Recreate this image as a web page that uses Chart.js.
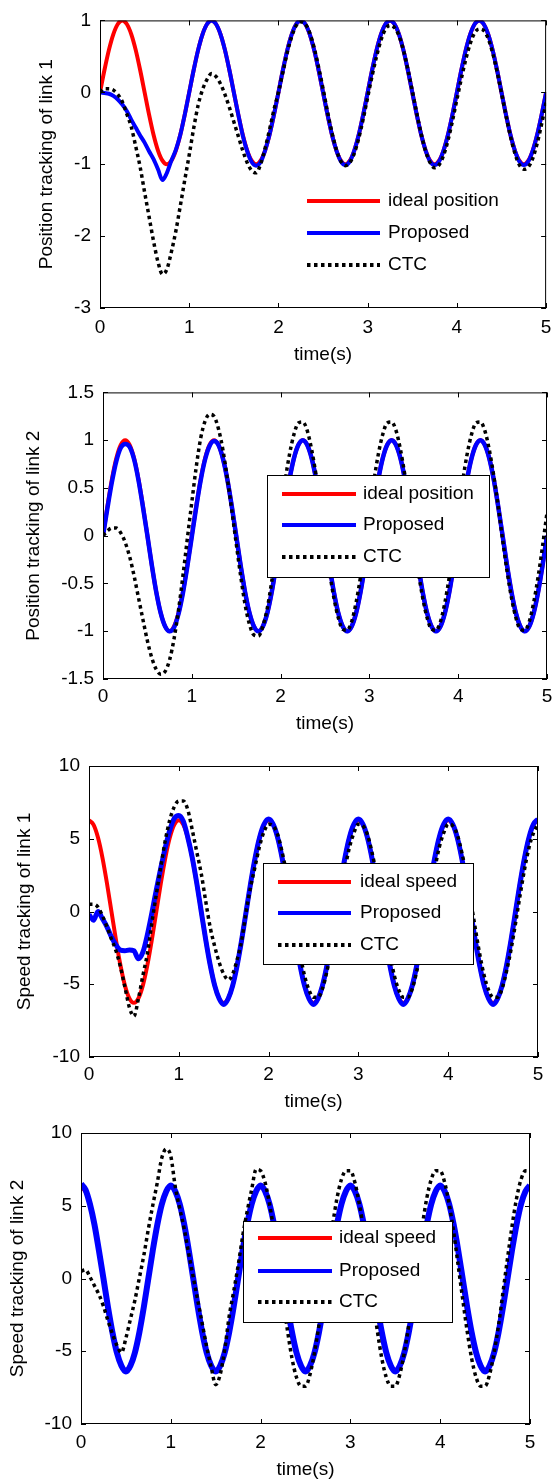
<!DOCTYPE html>
<html>
<head>
<meta charset="utf-8">
<script src="https://cdn.jsdelivr.net/npm/chart.js@4"></script>
<style>
  body { margin: 0; background: #fff; width: 560px; height: 1482px; position: relative; overflow: hidden; }
  canvas { position: absolute; left: 0; }
</style>
</head>
<body>
<canvas id="c1"></canvas>
<canvas id="c2"></canvas>
<canvas id="c3"></canvas>
<canvas id="c4"></canvas>
<script>
// sample times (s)
const time = [
  0, 0.05, 0.1, 0.15, 0.2, 0.25, 0.3, 0.35, 0.4, 0.45, 0.5, 0.55, 0.6, 0.65, 0.7, 0.75, 0.8, 0.85, 0.9, 0.95,
  1, 1.05, 1.1, 1.15, 1.2, 1.25, 1.3, 1.35, 1.4, 1.45, 1.5, 1.55, 1.6, 1.65, 1.7, 1.75, 1.8, 1.85, 1.9, 1.95,
  2, 2.05, 2.1, 2.15, 2.2, 2.25, 2.3, 2.35, 2.4, 2.45, 2.5, 2.55, 2.6, 2.65, 2.7, 2.75, 2.8, 2.85, 2.9, 2.95,
  3, 3.05, 3.1, 3.15, 3.2, 3.25, 3.3, 3.35, 3.4, 3.45, 3.5, 3.55, 3.6, 3.65, 3.7, 3.75, 3.8, 3.85, 3.9, 3.95,
  4, 4.05, 4.1, 4.15, 4.2, 4.25, 4.3, 4.35, 4.4, 4.45, 4.5, 4.55, 4.6, 4.65, 4.7, 4.75, 4.8, 4.85, 4.9, 4.95,
  5
];
const xTicks = [0, 1, 2, 3, 4, 5];

// ideal trajectories (same for both links)
const idealPosition = [
  0, 0.31, 0.59, 0.81, 0.95, 1, 0.95, 0.81, 0.59, 0.31, 0, -0.31, -0.59, -0.81, -0.95, -1, -0.95, -0.81, -0.59, -0.31,
  0, 0.31, 0.59, 0.81, 0.95, 1, 0.95, 0.81, 0.59, 0.31, 0, -0.31, -0.59, -0.81, -0.95, -1, -0.95, -0.81, -0.59, -0.31,
  0, 0.31, 0.59, 0.81, 0.95, 1, 0.95, 0.81, 0.59, 0.31, 0, -0.31, -0.59, -0.81, -0.95, -1, -0.95, -0.81, -0.59, -0.31,
  0, 0.31, 0.59, 0.81, 0.95, 1, 0.95, 0.81, 0.59, 0.31, 0, -0.31, -0.59, -0.81, -0.95, -1, -0.95, -0.81, -0.59, -0.31,
  0, 0.31, 0.59, 0.81, 0.95, 1, 0.95, 0.81, 0.59, 0.31, 0, -0.31, -0.59, -0.81, -0.95, -1, -0.95, -0.81, -0.59, -0.31,
  0
];
const idealSpeed = [
  6.28, 5.97, 5.08, 3.69, 1.94, 0, -1.94, -3.69, -5.08, -5.97, -6.28, -5.97, -5.08, -3.69, -1.94, 0, 1.94, 3.69, 5.08, 5.97,
  6.28, 5.97, 5.08, 3.69, 1.94, 0, -1.94, -3.69, -5.08, -5.97, -6.28, -5.97, -5.08, -3.69, -1.94, 0, 1.94, 3.69, 5.08, 5.97,
  6.28, 5.97, 5.08, 3.69, 1.94, 0, -1.94, -3.69, -5.08, -5.97, -6.28, -5.97, -5.08, -3.69, -1.94, 0, 1.94, 3.69, 5.08, 5.97,
  6.28, 5.97, 5.08, 3.69, 1.94, 0, -1.94, -3.69, -5.08, -5.97, -6.28, -5.97, -5.08, -3.69, -1.94, 0, 1.94, 3.69, 5.08, 5.97,
  6.28, 5.97, 5.08, 3.69, 1.94, 0, -1.94, -3.69, -5.08, -5.97, -6.28, -5.97, -5.08, -3.69, -1.94, 0, 1.94, 3.69, 5.08, 5.97,
  6.28
];

// link 1 position
const proposedPos1 = [
  0, -0.01, -0.02, -0.05, -0.1, -0.17, -0.26, -0.38, -0.49, -0.6, -0.7, -0.82, -0.93, -1.07, -1.22, -1.12, -0.95, -0.8, -0.59, -0.31,
  0, 0.31, 0.59, 0.81, 0.95, 1, 0.95, 0.81, 0.59, 0.31, 0, -0.31, -0.6, -0.82, -0.97, -1.02, -0.97, -0.81, -0.59, -0.31,
  0, 0.31, 0.59, 0.81, 0.95, 1, 0.95, 0.81, 0.59, 0.31, 0, -0.31, -0.59, -0.81, -0.96, -1.01, -0.96, -0.81, -0.59, -0.31,
  0, 0.31, 0.59, 0.81, 0.95, 1, 0.95, 0.81, 0.59, 0.31, 0, -0.31, -0.59, -0.81, -0.96, -1.01, -0.96, -0.81, -0.59, -0.31,
  0, 0.31, 0.59, 0.81, 0.95, 1, 0.95, 0.81, 0.59, 0.31, 0, -0.31, -0.59, -0.81, -0.96, -1.01, -0.96, -0.81, -0.59, -0.31,
  0
];
const ctcPos1 = [
  0, 0.05, 0.05, 0.03, -0.03, -0.13, -0.3, -0.48, -0.75, -1.04, -1.39, -1.73, -2.07, -2.36, -2.53, -2.46, -2.22, -1.93, -1.58, -1.22,
  -0.87, -0.5, -0.18, 0.04, 0.18, 0.26, 0.22, 0.12, -0.03, -0.21, -0.41, -0.61, -0.81, -0.98, -1.09, -1.12, -1, -0.78, -0.52, -0.24,
  0, 0.28, 0.56, 0.78, 0.93, 0.98, 0.95, 0.83, 0.62, 0.35, 0.05, -0.27, -0.56, -0.8, -0.96, -1.02, -0.98, -0.85, -0.64, -0.37,
  -0.07, 0.23, 0.5, 0.73, 0.88, 0.93, 0.9, 0.79, 0.59, 0.32, 0.02, -0.29, -0.58, -0.82, -0.98, -1.05, -1.01, -0.88, -0.67, -0.4,
  -0.1, 0.19, 0.46, 0.68, 0.83, 0.88, 0.86, 0.75, 0.55, 0.29, -0.01, -0.32, -0.61, -0.85, -1.01, -1.07, -1.04, -0.92, -0.71, -0.44,
  -0.14
];

// link 2 position
const proposedPos2 = [
  0, 0.29, 0.56, 0.78, 0.92, 0.96, 0.93, 0.8, 0.58, 0.3, 0, -0.31, -0.59, -0.81, -0.95, -1, -0.96, -0.82, -0.6, -0.32,
  -0.01, 0.3, 0.58, 0.8, 0.94, 0.99, 0.95, 0.81, 0.59, 0.31, 0, -0.31, -0.59, -0.81, -0.95, -1, -0.95, -0.81, -0.59, -0.31,
  0, 0.31, 0.59, 0.81, 0.95, 1, 0.95, 0.81, 0.59, 0.31, 0, -0.31, -0.59, -0.81, -0.95, -1, -0.95, -0.81, -0.59, -0.31,
  0, 0.31, 0.59, 0.81, 0.95, 1, 0.95, 0.81, 0.59, 0.31, 0, -0.31, -0.59, -0.81, -0.95, -1, -0.95, -0.81, -0.59, -0.31,
  0, 0.31, 0.59, 0.81, 0.95, 1, 0.95, 0.81, 0.59, 0.31, 0, -0.31, -0.59, -0.81, -0.95, -1, -0.95, -0.81, -0.59, -0.31,
  0
];
const ctcPos2 = [
  0, 0.05, 0.08, 0.08, 0.03, -0.07, -0.22, -0.42, -0.65, -0.88, -1.1, -1.28, -1.4, -1.45, -1.42, -1.3, -1.08, -0.78, -0.42, -0.03,
  0.35, 0.72, 1.02, 1.2, 1.27, 1.25, 1.12, 0.9, 0.6, 0.27, -0.08, -0.42, -0.72, -0.93, -1.04, -1.05, -0.95, -0.76, -0.48, -0.15,
  0.24, 0.57, 0.85, 1.06, 1.18, 1.19, 1.1, 0.9, 0.63, 0.31, -0.04, -0.37, -0.65, -0.86, -0.98, -0.99, -0.9, -0.7, -0.43, -0.11,
  0.24, 0.57, 0.85, 1.06, 1.18, 1.19, 1.1, 0.9, 0.63, 0.31, -0.04, -0.37, -0.65, -0.86, -0.98, -0.99, -0.9, -0.7, -0.43, -0.11,
  0.24, 0.57, 0.85, 1.06, 1.18, 1.19, 1.1, 0.9, 0.63, 0.31, -0.04, -0.37, -0.65, -0.86, -0.98, -0.99, -0.9, -0.7, -0.43, -0.11,
  0.24
];

// link 1 speed
const proposedSpd1 = [
  -0.2, -0.6, 0, -0.5, -1.05, -1.75, -2.3, -2.66, -2.7, -2.65, -2.7, -3.25, -2.8, -1.6, -0.1, 1.5, 3, 4.4, 5.6, 6.4,
  6.6, 6.2, 5.1, 3.7, 1.95, 0, -1.95, -3.7, -5.1, -6, -6.4, -6, -5.1, -3.7, -1.95, 0, 1.95, 3.7, 5.1, 6,
  6.35, 6, 5.1, 3.7, 1.95, 0, -1.95, -3.7, -5.1, -6, -6.4, -6, -5.1, -3.7, -1.95, 0, 1.95, 3.7, 5.1, 6,
  6.35, 6, 5.1, 3.7, 1.95, 0, -1.95, -3.7, -5.1, -6, -6.4, -6, -5.1, -3.7, -1.95, 0, 1.95, 3.7, 5.1, 6,
  6.35, 6, 5.1, 3.7, 1.95, 0, -1.95, -3.7, -5.1, -6, -6.4, -6, -5.1, -3.7, -1.95, 0, 1.95, 3.7, 5.1, 6,
  6.35
];
const ctcSpd1 = [
  0.5, 0.5, 0.3, -0.3, -1.05, -1.9, -2.7, -3.8, -5.2, -6.6, -7.2, -6, -4.4, -2.9, -0.8, 1.2, 3.1, 4.9, 6.3, 7.2,
  7.6, 7.6, 7, 5.6, 4.1, 2.6, 0.7, -1.1, -2.4, -3.5, -4.3, -4.7, -4.3, -3.3, -2, 0, 1.7, 3.1, 4.5, 5.5,
  6, 5.9, 5.3, 4.1, 2.6, 0.8, -1.1, -2.9, -4.4, -5.4, -5.9, -5.9, -5.3, -4.1, -2.6, -0.8, 1.1, 2.9, 4.4, 5.4,
  6, 5.9, 5.3, 4.1, 2.6, 0.8, -1.1, -2.9, -4.4, -5.4, -5.9, -5.9, -5.3, -4.1, -2.6, -0.8, 1.1, 2.9, 4.4, 5.4,
  6, 5.9, 5.3, 4.1, 2.6, 0.8, -1.1, -2.9, -4.4, -5.4, -5.9, -5.9, -5.3, -4.1, -2.6, -0.8, 1.1, 2.9, 4.4, 5.4,
  6
];

// link 2 speed
const proposedSpd2 = [
  6.5, 6.1, 5.1, 3.7, 1.9, 0, -1.95, -3.7, -5.1, -6, -6.4, -6, -5.1, -3.7, -1.95, 0, 1.95, 3.7, 5.1, 6,
  6.4, 6, 5.1, 3.7, 1.95, 0, -1.95, -3.7, -5.1, -6, -6.4, -6, -5.1, -3.7, -1.95, 0, 1.95, 3.7, 5.1, 6,
  6.4, 6, 5.1, 3.7, 1.95, 0, -1.95, -3.7, -5.1, -6, -6.4, -6, -5.1, -3.7, -1.95, 0, 1.95, 3.7, 5.1, 6,
  6.4, 6, 5.1, 3.7, 1.95, 0, -1.95, -3.7, -5.1, -6, -6.4, -6, -5.1, -3.7, -1.95, 0, 1.95, 3.7, 5.1, 6,
  6.4, 6, 5.1, 3.7, 1.95, 0, -1.95, -3.7, -5.1, -6, -6.4, -6, -5.1, -3.7, -1.95, 0, 1.95, 3.7, 5.1, 6,
  6.4
];
const ctcSpd2 = [
  0.5, 0.6, 0.1, -0.5, -1.1, -1.9, -2.9, -3.8, -4.6, -5.1, -4.1, -2.8, -1.5, 0.05, 1.6, 3.4, 5.05, 6.6, 8.3, 8.9,
  8.4, 6.3, 4.8, 3.4, 1.7, 0.1, -1.5, -3.1, -4.7, -6.1, -7.3, -6.6, -4.9, -2.6, -0.9, 0.9, 2.9, 4.6, 6.1, 7.5,
  7.4, 6.6, 5.1, 3.2, 0.9, -1.4, -3.6, -5.5, -6.8, -7.4, -7.4, -6.6, -5.1, -3.2, -0.9, 1.4, 3.6, 5.5, 6.8, 7.4,
  7.4, 6.6, 5.1, 3.2, 0.9, -1.4, -3.6, -5.5, -6.8, -7.4, -7.4, -6.6, -5.1, -3.2, -0.9, 1.4, 3.6, 5.5, 6.8, 7.4,
  7.4, 6.6, 5.1, 3.2, 0.9, -1.4, -3.6, -5.5, -6.8, -7.4, -7.4, -6.6, -5.1, -3.2, -0.9, 1.4, 3.6, 5.5, 6.8, 7.4,
  7.4
];

const FS = 19;
Chart.defaults.font.family = '"Liberation Sans", Arial, Helvetica, sans-serif';
Chart.defaults.font.size = FS;
Chart.defaults.color = '#000';

// page layout of each panel (absolute page pixels)
const panels = [
  { id: 'c1', top: 0, height: 380, plot: [100, 17, 555, 308], yTitleX: 47, xTickY: 328, xTitleY: 355,
    yMin: -3, yMax: 1, yStep: 1, yTitle: 'Position tracking of link 1', idealLabel: 'ideal position',
    ideal: idealPosition, proposed: proposedPos1, ctc: ctcPos1, blueWidth: 4,
    legend: { box: null, line: [307, 380], textX: 388, rows: [201, 233, 265] } },
  { id: 'c2', top: 372, height: 380, plot: [103, 388, 547, 679], yTitleX: 34, xTickY: 697, xTitleY: 724,
    yMin: -1.5, yMax: 1.5, yStep: 0.5, yTitle: 'Position tracking of link 2', idealLabel: 'ideal position',
    ideal: idealPosition, proposed: proposedPos2, ctc: ctcPos2, blueWidth: 4.5,
    legend: { box: [267, 475, 489, 577], line: [282, 356], textX: 363, rows: [494, 525, 557] } },
  { id: 'c3', top: 742, height: 380, plot: [89, 766, 538, 1057], yTitleX: 25, xTickY: 1075, xTitleY: 1102,
    yMin: -10, yMax: 10, yStep: 5, yTitle: 'Speed tracking of link 1', idealLabel: 'ideal speed',
    ideal: idealSpeed, proposed: proposedSpd1, ctc: ctcSpd1, blueWidth: 5,
    legend: { box: [263, 863, 473, 964], line: [278, 351], textX: 360, rows: [882, 913, 945] } },
  { id: 'c4', top: 1112, height: 370, plot: [81, 1133, 530, 1424], yTitleX: 18, xTickY: 1443, xTitleY: 1470,
    yMin: -10, yMax: 10, yStep: 5, yTitle: 'Speed tracking of link 2', idealLabel: 'ideal speed',
    ideal: idealSpeed, proposed: proposedSpd2, ctc: ctcSpd2, blueWidth: 6,
    legend: { box: [243, 1221, 452, 1322], line: [258, 332], textX: 339, rows: [1238, 1271, 1302] } }
];

// matlab-like box, inward ticks and legend
const matlabAxes = {
  id: 'matlabAxes',
  afterDatasetsDraw(chart, args, opts) {
    const { ctx, chartArea: a, scales: { x, y } } = chart;
    const off = opts.offset;
    ctx.save();
    ctx.strokeStyle = '#000';
    ctx.lineWidth = 1;
    ctx.setLineDash([]);
    ctx.beginPath();
    x.ticks.forEach(t => {
      const px = Math.round(x.getPixelForValue(t.value)) + 0.5;
      ctx.moveTo(px, a.bottom); ctx.lineTo(px, a.bottom - 5);
      ctx.moveTo(px, a.top); ctx.lineTo(px, a.top + 5);
    });
    y.ticks.forEach(t => {
      const py = Math.round(y.getPixelForValue(t.value)) + 0.5;
      ctx.moveTo(a.left, py); ctx.lineTo(a.left + 5, py);
      ctx.moveTo(a.right, py); ctx.lineTo(a.right - 5, py);
    });
    ctx.stroke();
    ctx.strokeRect(a.left + 0.5, a.top + 0.5, a.right - a.left - 1, a.bottom - a.top - 1);

    const lg = opts.legend;
    if (lg.box) {
      const [l, t, r, b] = lg.box;
      ctx.fillStyle = '#fff';
      ctx.fillRect(l, t - off, r - l, b - t);
      ctx.strokeRect(l + 0.5, t - off + 0.5, r - l, b - t);
    }
    ctx.font = FS + 'px ' + Chart.defaults.font.family;
    ctx.textBaseline = 'middle';
    ctx.textAlign = 'left';
    chart.data.datasets.forEach((ds, i) => {
      const yy = lg.rows[i] - off;
      ctx.save();
      ctx.strokeStyle = ds.borderColor;
      ctx.lineWidth = 4;
      ctx.setLineDash(ds.borderDash || []);
      ctx.beginPath();
      ctx.moveTo(lg.line[0], yy);
      ctx.lineTo(lg.line[1], yy);
      ctx.stroke();
      ctx.restore();
      ctx.fillStyle = '#000';
      ctx.fillText(ds.label, lg.textX, yy);
    });
    ctx.restore();
  }
};

const LH = FS * 1.2;
const toXY = arr => arr.map((v, i) => ({ x: time[i], y: v }));

panels.forEach(p => {
  const cv = document.getElementById(p.id);
  cv.width = 560;
  cv.height = p.height;
  cv.style.top = p.top + 'px';
  const [pl, pt, pr, pb] = p.plot;
  const plotBottom = pb - p.top;

  new Chart(cv, {
    type: 'line',
    data: {
      datasets: [
        { label: p.idealLabel, data: toXY(p.ideal), borderColor: '#ff0000', borderWidth: 4, order: 3 },
        { label: 'Proposed', data: toXY(p.proposed), borderColor: '#0000ff', borderWidth: p.blueWidth, order: 2 },
        { label: 'CTC', data: toXY(p.ctc), borderColor: '#000000', borderWidth: 3.5, borderDash: [3.5, 3.5], order: 1 }
      ]
    },
    plugins: [matlabAxes],
    options: {
      responsive: false,
      animation: false,
      events: [],
      clip: 0,
      elements: {
        point: { radius: 0 },
        line: { cubicInterpolationMode: 'monotone', borderCapStyle: 'butt', fill: false }
      },
      layout: { autoPadding: false, padding: { left: 0, top: pt - p.top, right: 560 - pr, bottom: 0 } },
      plugins: {
        legend: { display: false },
        tooltip: { enabled: false },
        matlabAxes: { offset: p.top, legend: p.legend }
      },
      scales: {
        x: {
          type: 'linear', min: 0, max: 5,
          grid: { display: false, drawTicks: false },
          border: { display: false },
          afterBuildTicks: s => { s.ticks = xTicks.map(v => ({ value: v })); },
          ticks: { padding: p.xTickY - pb - LH / 2, maxRotation: 0, autoSkip: false, callback: v => String(v) },
          title: { display: true, text: 'time(s)', padding: { top: 0, bottom: p.height - LH / 2 - (p.xTitleY - p.top) } },
          afterFit: s => { s.height = p.height - plotBottom; }
        },
        y: {
          min: p.yMin, max: p.yMax,
          grid: { display: false, drawTicks: false },
          border: { display: false },
          ticks: { stepSize: p.yStep, padding: 9, autoSkip: false, callback: v => String(Math.round(v * 100) / 100) },
          title: { display: true, text: p.yTitle, padding: { top: p.yTitleX - LH / 2, bottom: 0 } },
          afterFit: s => { s.width = pl; }
        }
      }
    }
  });
});
</script>
</body>
</html>
